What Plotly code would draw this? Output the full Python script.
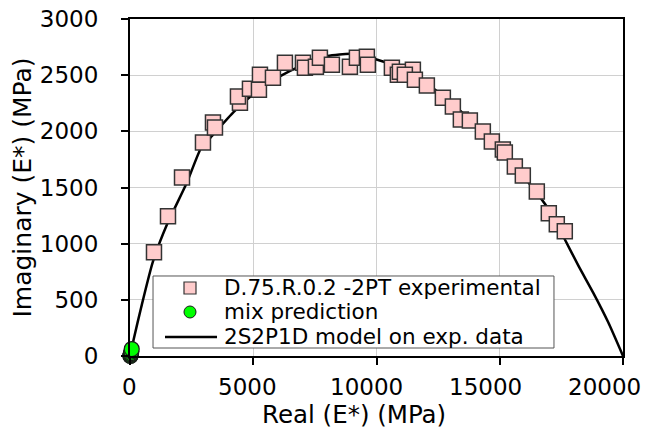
import plotly.graph_objects as go

# Experimental data (Real E*, Imaginary E*) in MPa
exp_real = [973, 1541, 2110, 2960, 3366, 3447, 4460, 4379, 4866, 5272, 5231, 5799,
            6285, 7015, 7096, 7542, 7704, 8191, 8921, 9205, 9610, 9650, 10624, 10867,
            10949, 11476, 11151, 11557, 12043, 12692, 13098, 13422, 13787, 14314,
            14679, 15125, 15206, 15612, 15936, 16504, 16990, 17315, 17639]
exp_imag = [923, 1243, 1590, 1900, 2078, 2034, 2255, 2309, 2380, 2504, 2371, 2478,
            2611, 2611, 2566, 2575, 2655, 2593, 2575, 2655, 2664, 2593, 2566, 2504,
            2531, 2549, 2504, 2460, 2407, 2300, 2220, 2105, 2096, 1998,
            1909, 1838, 1811, 1687, 1607, 1465, 1270, 1172, 1110]

# Mix prediction points
mix_real = [15, 20, 25, 30, 40, 55, 70]
mix_imag = [0, 3, 8, 15, 25, 40, 62]

# 2S2P1D model curve
model_real = [0, 150, 450, 930, 1500, 2300, 2900, 3250, 4200, 5000, 6000, 7000, 8000,
              9000, 10000, 11000, 12000, 13000, 14000, 15000, 16000, 17000, 17600,
              18200, 18800, 19400, 20000]
model_imag = [0, 150, 430, 840, 1170, 1540, 1860, 1940, 2170, 2330, 2480, 2590, 2670,
              2690, 2640, 2560, 2430, 2260, 2060, 1840, 1590, 1300, 1055,
              800, 560, 300, 0]

x_ticks = [0, 5000, 10000, 15000, 20000]
x_labels = ["0", "5000", "10000", "15000", "20000"]
y_ticks = [0, 500, 1000, 1500, 2000, 2500, 3000]
y_labels = ["0", "500", "1000", "1500", "2000", "2500", "3000"]

legend_names = ["D.75.R.0.2 -2PT experimental", "mix prediction", "2S2P1D model on exp. data"]
x_title = "Real (E*) (MPa)"
y_title = "Imaginary (E*) (MPa)"

FONT = "DejaVu Sans"
PINK = "#FFCCCC"
GREEN = "#00FF00"

fig = go.Figure()
fig.add_trace(go.Scatter(
    x=model_real, y=model_imag, mode="lines", name=legend_names[2],
    line=dict(color="black", width=2.5, shape="spline", smoothing=0.6),
    showlegend=False, cliponaxis=False))
fig.add_trace(go.Scatter(
    x=exp_real, y=exp_imag, mode="markers", name=legend_names[0],
    marker=dict(symbol="square", size=15, color=PINK,
                line=dict(color="#333333", width=1.5)),
    showlegend=False, cliponaxis=False))
fig.add_trace(go.Scatter(
    x=mix_real, y=mix_imag, mode="markers", name=legend_names[1],
    marker=dict(symbol="circle", size=15, color=GREEN,
                line=dict(color="#1a1a1a", width=1.2)),
    showlegend=False, cliponaxis=False))

# ---- legend box (drawn as layout shapes + annotations, paper coords)
W, H = 493.0, 337.0          # plot area size in px
bx0, bx1, by0, by1 = 0.0467, 0.860, 0.0237, 0.2374
rows = [0.2018, 0.1306, 0.0564]
sym_x = 0.1217
hx, hy = 6 / W, 6 / H
shapes = [
    dict(type="rect", xref="paper", yref="paper", x0=bx0, x1=bx1, y0=by0, y1=by1,
         fillcolor="white", line=dict(color="#555555", width=1), layer="above"),
    dict(type="rect", xref="paper", yref="paper",
         x0=sym_x - hx, x1=sym_x + hx, y0=rows[0] - hy, y1=rows[0] + hy,
         fillcolor=PINK, line=dict(color="#333333", width=1.2), layer="above"),
    dict(type="circle", xref="paper", yref="paper",
         x0=sym_x - hx, x1=sym_x + hx, y0=rows[1] - hy, y1=rows[1] + hy,
         fillcolor=GREEN, line=dict(color="#1a1a1a", width=1), layer="above"),
    dict(type="line", xref="paper", yref="paper",
         x0=0.0710, x1=0.1765, y0=rows[2], y1=rows[2],
         line=dict(color="black", width=2.5), layer="above"),
]
annotations = [
    dict(xref="paper", yref="paper", x=0.1866, y=rows[i], text=legend_names[i],
         showarrow=False, xanchor="left", yanchor="middle",
         font=dict(family=FONT, size=21.5, color="black"))
    for i in range(3)
]
# x tick labels: the reference sets them slightly left of their ticks,
# progressively more towards the right end
for v, lab in zip(x_ticks, x_labels):
    annotations.append(dict(
        xref="x", yref="paper", x=v, y=-0.092, text=lab, showarrow=False,
        xanchor="center", yanchor="middle", xshift=-1 - 18 * v / x_ticks[-1],
        font=dict(family=FONT, size=23, color="black")))
annotations.append(dict(
    xref="paper", yref="paper", x=0.454, y=-0.175, text=x_title,
    showarrow=False, xanchor="center", yanchor="middle",
    font=dict(family=FONT, size=24.5, color="black")))

fig.update_layout(
    width=655, height=425,
    margin=dict(l=122, r=40, t=11, b=77, autoexpand=False),
    paper_bgcolor="white", plot_bgcolor="white",
    font=dict(family=FONT, size=23, color="black"),
    showlegend=False,
    shapes=shapes, annotations=annotations,
    xaxis=dict(range=[0, 20000], tickvals=x_ticks, showticklabels=False,
               showgrid=True, gridcolor="#D0D0D0", gridwidth=1,
               showline=True, linecolor="black", linewidth=2, mirror=True,
               ticks="outside", ticklen=7, tickwidth=1.5, tickcolor="black",
               automargin=False, zeroline=False),
    yaxis=dict(range=[0, 3000], tickvals=y_ticks, ticktext=y_labels,
               showgrid=True, gridcolor="#D0D0D0", gridwidth=1,
               showline=True, linecolor="black", linewidth=2, mirror=True,
               ticks="outside", ticklen=7, tickwidth=1.5, tickcolor="black",
               ticklabelstandoff=18, automargin=False, ticklabeloverflow="allow",
               zeroline=False, tickfont=dict(size=23),
               title=dict(text=y_title, standoff=6,
                          font=dict(family=FONT, size=25))),
)

fig.write_html("out.html")
